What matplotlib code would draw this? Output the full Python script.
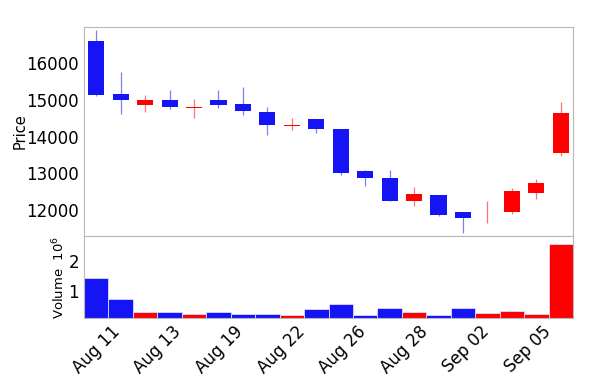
import numpy as np
import matplotlib
matplotlib.use("Agg")
import matplotlib.pyplot as plt
from matplotlib.ticker import FuncFormatter

# daily OHLC + volume
opens = [16618, 15164, 14864, 15009, 14790, 14991, 14891, 14673, 14305, 14482,
         14200, 13064, 12864, 12255, 12400, 11955, 11855, 11936, 12473, 13564]
highs = [16909, 15773, 15136, 15273, 15036, 15273, 15345, 14800, 14518, 14490,
         14200, 13100, 13091, 12618, 12400, 11955, 12245, 12591, 12855, 14955]
lows = [15120, 14609, 14664, 14764, 14518, 14773, 14582, 14045, 14182, 14109,
        12955, 12655, 12255, 12109, 11845, 11382, 11636, 11891, 12300, 13473]
closes = [15136, 15000, 15009, 14809, 14815, 14873, 14700, 14309, 14325, 14200,
          13018, 12864, 12255, 12445, 11873, 11782, 11870, 12527, 12727, 14655]
volumes = [1.46e6, 0.74e6, 0.30e6, 0.31e6, 0.22e6, 0.30e6, 0.24e6, 0.24e6, 0.19e6, 0.40e6,
           0.57e6, 0.21e6, 0.42e6, 0.29e6, 0.21e6, 0.42e6, 0.27e6, 0.35e6, 0.25e6, 2.58e6]
tick_labels = ['Aug 11', 'Aug 13', 'Aug 19', 'Aug 22', 'Aug 26', 'Aug 28', 'Sep 02', 'Sep 05']

up_color = '#ff0000'
down_color = '#1414f5'
spine_color = '#b8b8b8'

fig = plt.figure(figsize=(6.0, 3.89), dpi=100)
ax = fig.add_axes([0.14, 0.393, 0.815, 0.5376])
axv = fig.add_axes([0.14, 0.1825, 0.815, 0.2105], sharex=ax)

x = np.arange(len(opens))
o = np.array(opens)
c = np.array(closes)
colors = [up_color if cc >= oo else down_color for oo, cc in zip(o, c)]

# wicks
ax.vlines(x, lows, highs, colors=colors, linewidth=0.9, alpha=0.55)
# bodies
bottoms = np.minimum(o, c)
heights = np.maximum(np.abs(c - o), 15)
ax.bar(x, heights, bottom=bottoms, width=0.66, color=colors, linewidth=0)

axv.bar(x, volumes, width=1.0, color=colors, edgecolor='#dcdcff', linewidth=0.6)

ax.set_xlim(-0.5, len(x) - 0.5)
ax.set_ylim(11290, 16990)
ax.set_yticks([12000, 13000, 14000, 15000, 16000])
axv.set_ylim(0.1e6, 2.85e6)
axv.set_yticks([1e6, 2e6])
axv.yaxis.set_major_formatter(FuncFormatter(lambda v, p: f'{v / 1e6:g}'))

tick_pos = np.arange(len(tick_labels)) * 2.52
axv.set_xticks(tick_pos)
axv.set_xticklabels(tick_labels, rotation=45, ha='center')
plt.setp(ax.get_xticklabels(), visible=False)

for a in (ax, axv):
    for s in a.spines.values():
        s.set_color(spine_color)
    a.tick_params(length=0, labelsize=12, pad=3.5)

ax.set_ylabel('Price', fontsize=10.5)
axv.set_ylabel('Volume  $10^6$', fontsize=9.5)
ax.yaxis.set_label_coords(-0.115, 0.5)
axv.yaxis.set_label_coords(-0.035, 0.5)

fig.savefig('out.png', dpi=100)
